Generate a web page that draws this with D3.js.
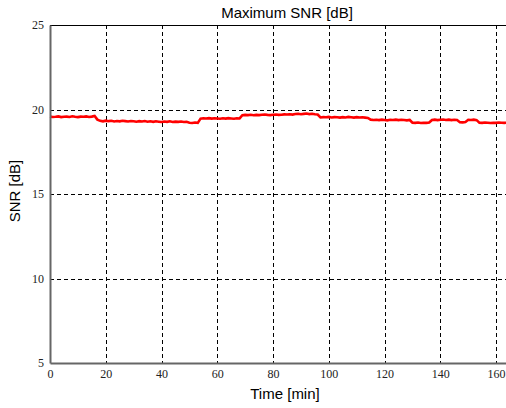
<!DOCTYPE html>
<html>
<head>
<meta charset="utf-8">
<script src="https://cdn.jsdelivr.net/npm/d3@7"></script>
<style>
  body { margin: 0; background: #fff; }
  svg { display: block; }
</style>
</head>
<body>
<svg></svg>
<script>
// SNR readings, one per minute starting at 0 min
var snr = [
  19.58,19.56,19.57,19.59,19.55,19.57,19.58,19.56,19.60,19.57,19.55,19.58,19.57,19.59,19.56,19.58,19.62,
  19.40,19.33,19.30,19.34,19.31,19.33,19.29,19.32,19.30,19.33,19.31,19.29,19.32,19.30,19.28,19.31,19.29,
  19.32,19.28,19.30,19.27,19.30,19.28,19.26,19.29,19.27,19.30,19.26,19.28,19.27,19.29,19.26,19.27,
  19.22,19.20,19.23,19.21,
  19.46,19.48,19.47,19.49,19.46,19.48,19.47,19.45,19.48,19.46,19.49,19.47,19.45,19.48,19.47,
  19.66,19.68,19.67,19.69,19.66,19.68,19.67,19.69,19.70,19.68,19.67,19.69,19.70,19.68,19.69,19.71,
  19.70,19.72,19.70,19.73,19.75,19.72,19.74,19.76,19.73,19.75,19.72,19.70,
  19.53,19.55,19.54,19.56,19.53,19.55,19.54,19.52,19.55,19.53,19.56,19.54,19.52,19.55,19.53,19.54,19.52,19.50,
  19.40,19.38,19.39,19.37,19.40,19.38,19.36,19.39,19.38,19.40,19.37,19.39,19.38,19.36,19.38,
  19.22,19.21,19.23,19.20,19.22,19.21,19.23,
  19.38,19.40,19.37,19.39,19.41,19.38,19.40,19.37,19.39,19.38,
  19.25,19.24,19.26,
  19.39,19.38,19.40,19.37,
  19.22,19.21,19.23,19.22,19.20,19.22,19.21,19.23,19.22,19.21,19.22
];
var xTicks = [0, 20, 40, 60, 80, 100, 120, 140, 160];
var yTicks = [5, 10, 15, 20, 25];
var yGrid = [10, 15, 20];

var svgW = 506, svgH = 408;
var svg = d3.select("svg").attr("width", svgW).attr("height", svgH);

// plot box (right part is cut off by the window)
var padL = 50, padR = 524, padT = 25, padB = 363;

var x = d3.scaleLinear().domain([0, 170]).range([padL, padR]);
var y = d3.scaleLinear().domain([5, 25]).range([padB, padT]);

// grid
svg.append("g").selectAll("line")
  .data(xTicks.slice(1))
  .enter().append("line")
  .attr("x1", function(d) { return Math.round(x(d)) + 0.5; })
  .attr("x2", function(d) { return Math.round(x(d)) + 0.5; })
  .attr("y1", padT).attr("y2", padB)
  .attr("stroke", "#000").attr("stroke-width", 1).attr("stroke-dasharray", "4,3");
svg.append("g").selectAll("line")
  .data(yGrid)
  .enter().append("line")
  .attr("x1", padL).attr("x2", padR)
  .attr("y1", function(d) { return Math.round(y(d)) + 0.5; })
  .attr("y2", function(d) { return Math.round(y(d)) + 0.5; })
  .attr("stroke", "#000").attr("stroke-width", 1).attr("stroke-dasharray", "4,3");

// top border
svg.append("line")
  .attr("x1", padL).attr("x2", padR).attr("y1", padT + 0.5).attr("y2", padT + 0.5)
  .attr("stroke", "#000").attr("stroke-width", 1);

// data line
var line = d3.line()
  .x(function(d, i) { return x(i); })
  .y(function(d) { return y(d); });
svg.append("path")
  .datum(snr)
  .attr("d", line)
  .attr("fill", "none")
  .attr("stroke", "#f00")
  .attr("stroke-width", 2.6);

// axes
var xAxis = svg.append("g")
  .attr("transform", "translate(0," + padB + ")")
  .call(d3.axisBottom(x).tickValues(xTicks).tickSize(0).tickPadding(6));
var yAxis = svg.append("g")
  .attr("transform", "translate(" + padL + ",0)")
  .call(d3.axisLeft(y).tickValues(yTicks).tickSize(0).tickPadding(6));
[xAxis, yAxis].forEach(function(a) {
  a.select(".domain").attr("stroke", "#666").attr("stroke-width", 2);
  a.selectAll(".tick text")
    .attr("fill", "#222")
    .style("font-family", "Liberation Serif, Times New Roman, serif")
    .style("font-size", "12px");
});
yAxis.selectAll(".tick text").attr("dy", "0.3em");

// titles
svg.append("text")
  .text("Maximum SNR [dB]")
  .attr("x", 287).attr("y", 18)
  .attr("text-anchor", "middle")
  .style("font-family", "Liberation Sans, Arial, sans-serif")
  .style("font-size", "15px");
svg.append("text")
  .text("Time [min]")
  .attr("x", 285).attr("y", 399)
  .attr("text-anchor", "middle")
  .style("font-family", "Liberation Sans, Arial, sans-serif")
  .style("font-size", "15px");
svg.append("text")
  .text("SNR [dB]")
  .attr("transform", "translate(20,191) rotate(-90)")
  .attr("text-anchor", "middle")
  .style("font-family", "Liberation Sans, Arial, sans-serif")
  .style("font-size", "15px");
</script>
</body>
</html>
